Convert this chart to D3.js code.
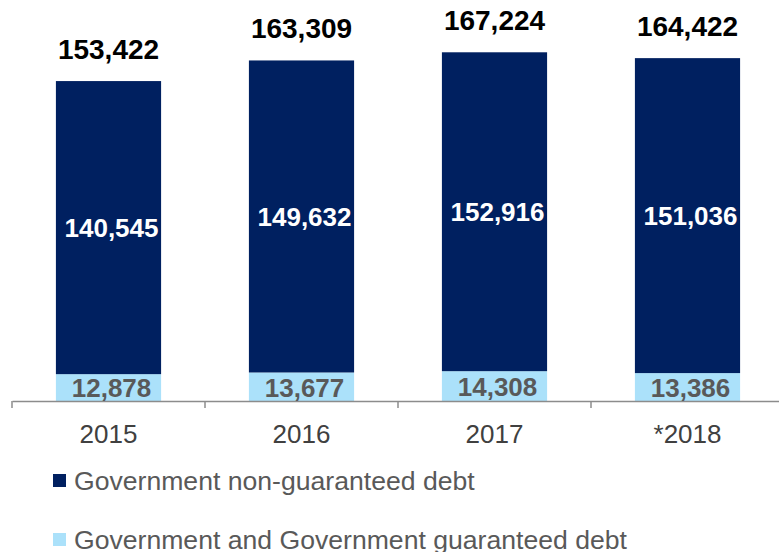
<!DOCTYPE html>
<html>
<head>
<meta charset="utf-8">
<script src="https://cdn.jsdelivr.net/npm/d3@7"></script>
<style>
  body { margin: 0; background: #fff; }
  svg { display: block; font-family: "Liberation Sans", Arial, sans-serif; }
</style>
</head>
<body>
<div id="chart"></div>
<script>
// values
const years = ["2015", "2016", "2017", "*2018"];
const guaranteed = [12878, 13677, 14308, 13386];
const nonGuaranteed = [140545, 149632, 152916, 151036];
const totals = [153422, 163309, 167224, 164422];
const seriesNames = ["Government non-guaranteed debt", "Government and Government guaranteed debt"];

const width = 779, height = 552;
const dark = "#002060", light = "#abe1fa";
const fmt = d3.format(",");

const svg = d3.select("#chart")
  .append("svg")
    .attr("width", width)
    .attr("height", height);

const x = d3.scaleBand()
  .domain(years)
  .range([12, 784])
  .padding(0);

const y = d3.scaleLinear()
  .domain([0, 192300])
  .range([401, 0]);

const barW = x.bandwidth() * 0.545;
const cx = d => x(d) + x.bandwidth() / 2;

const rows = years.map((yr, i) => ({
  year: yr, g: guaranteed[i], n: nonGuaranteed[i], total: totals[i]
}));

// light bottom segment
svg.selectAll(".seg-g")
  .data(rows)
  .enter()
  .append("rect")
    .attr("class", "seg-g")
    .attr("x", d => cx(d.year) - barW / 2)
    .attr("y", d => y(d.g))
    .attr("width", barW)
    .attr("height", d => y(0) - y(d.g))
    .attr("fill", light);

// dark top segment
svg.selectAll(".seg-n")
  .data(rows)
  .enter()
  .append("rect")
    .attr("class", "seg-n")
    .attr("x", d => cx(d.year) - barW / 2)
    .attr("y", d => y(d.g + d.n))
    .attr("width", barW)
    .attr("height", d => y(d.g) - y(d.g + d.n))
    .attr("fill", dark);

// axis
const axis = svg.append("g")
  .attr("transform", `translate(0, ${y(0)})`)
  .call(d3.axisBottom(x).tickSize(0).tickFormat(""));
axis.select(".domain").attr("stroke", "#8c8c8c").attr("stroke-width", 1.5);
axis.selectAll(".tick").remove();

// tick marks between categories
svg.selectAll(".sep")
  .data(years)
  .enter()
  .append("line")
    .attr("x1", d => x(d))
    .attr("x2", d => x(d))
    .attr("y1", y(0))
    .attr("y2", y(0) + 7)
    .attr("stroke", "#8c8c8c")
    .attr("stroke-width", 1.5);

svg.selectAll(".cat")
  .data(years)
  .enter()
  .append("text")
    .attr("x", d => cx(d))
    .attr("y", 443)
    .attr("text-anchor", "middle")
    .attr("fill", "#404040")
    .style("font-size", "26px")
    .text(d => d);

// labels inside segments
svg.selectAll(".lab-n")
  .data(rows)
  .enter()
  .append("text")
    .attr("x", d => cx(d.year) + 3)
    .attr("y", d => (y(d.g) + y(d.g + d.n)) / 2)
    .attr("dy", "0.36em")
    .attr("text-anchor", "middle")
    .attr("fill", "#fff")
    .style("font-size", "26px")
    .style("font-weight", "bold")
    .text(d => fmt(d.n));

svg.selectAll(".lab-g")
  .data(rows)
  .enter()
  .append("text")
    .attr("x", d => cx(d.year) + 3)
    .attr("y", d => (y(0) + y(d.g)) / 2)
    .attr("dy", "0.38em")
    .attr("text-anchor", "middle")
    .attr("fill", "#595959")
    .style("font-size", "26px")
    .style("font-weight", "bold")
    .text(d => fmt(d.g));

// totals
svg.selectAll(".lab-t")
  .data(rows)
  .enter()
  .append("text")
    .attr("x", d => cx(d.year))
    .attr("y", d => y(d.total) - 22)
    .attr("text-anchor", "middle")
    .attr("fill", "#000")
    .style("font-size", "28px")
    .style("font-weight", "bold")
    .text(d => fmt(d.total));

// legend
const legend = svg.append("g").attr("transform", "translate(53, 0)");
const legendY = [481, 540];
legend.selectAll("rect")
  .data(seriesNames)
  .enter()
  .append("rect")
    .attr("x", 0)
    .attr("y", (d, i) => legendY[i] - 7)
    .attr("width", 13)
    .attr("height", 13)
    .attr("fill", (d, i) => i === 0 ? dark : light);
legend.selectAll("text")
  .data(seriesNames)
  .enter()
  .append("text")
    .attr("x", 21)
    .attr("y", (d, i) => legendY[i] + 9)
    .attr("fill", "#595959")
    .style("font-size", "26.6px")
    .text(d => d);
</script>
</body>
</html>
